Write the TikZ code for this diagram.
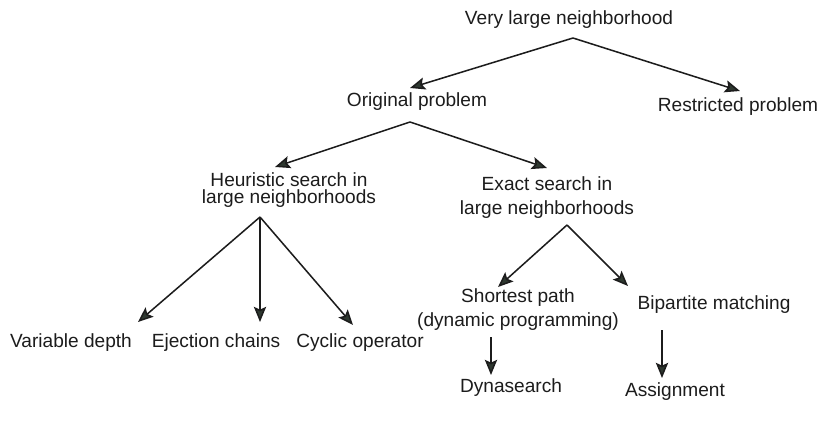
\documentclass[tikz,border=0pt]{standalone}
\usepackage{fontspec}
\setmainfont{Liberation Sans}
\usepackage{tikz}
\usetikzlibrary{arrows.meta, positioning, calc}
\definecolor{headgray}{HTML}{2E3830}
\definecolor{inkgray}{HTML}{1C1C1C}

\begin{document}
\begin{tikzpicture}[
    on grid,
    term/.style={inner sep=0pt, align=center, text=inkgray, font=\fontsize{16.3}{20.5}\selectfont},
    tight/.style={font=\fontsize{16.3}{14.2}\selectfont},
    arrow/.style={-{Stealth[length=13pt, width=10.5pt, inset=2.5pt, fill=headgray]}, line width=1.3pt, draw=inkgray}
]
    \useasboundingbox (0,0) rectangle (25.02,-12.6);

    % --- Top levels ---
    \node[term] (root) at (17.07,-0.60) {Very large neighborhood};
    \node[term, below left=2.46cm and 4.56cm of root] (orig) {Original problem};
    \node[term, below right=2.61cm and 5.07cm of root] (restr) {Restricted problem};

    % --- Search kinds ---
    \node[term, tight, below left=2.64cm and 3.84cm of orig] (heur) {Heuristic search in\\large neighborhoods};
    \node[term, below right=2.88cm and 3.90cm of orig] (exact) {Exact search in\\large neighborhoods};

    % --- Heuristic leaves ---
    \node[term, below left=4.59cm and 6.54cm of heur] (vardepth) {Variable depth};
    \node[term, right=4.35cm of vardepth] (ejection) {Ejection chains};
    \node[term, right=4.32cm of ejection] (cyclic) {Cyclic operator};

    % --- Exact leaves ---
    \node[term, below left=3.36cm and 0.87cm of exact] (shortest) {Shortest path\\(dynamic programming)};
    \node[term, below right=3.21cm and 5.01cm of exact] (bipartite) {Bipartite matching};
    \node[term, below left=2.34cm and 0.21cm of shortest] (dyna) {Dynasearch};
    \node[term, below left=2.61cm and 1.17cm of bipartite] (assign) {Assignment};

    % --- Connections ---
    \draw[arrow] ([shift={(0.12,-0.54)}]root.center) -- ([shift={(-0.21,0.42)}]orig.center);
    \draw[arrow] ([shift={(0.12,-0.54)}]root.center) -- ([shift={(0.06,0.48)}]restr.center);

    \draw[arrow] ([shift={(-0.21,-0.60)}]orig.center) -- ([shift={(-0.42,0.69)}]heur.center);
    \draw[arrow] ([shift={(-0.21,-0.60)}]orig.center) -- ([shift={(0,0.90)}]exact.center);

    \draw[arrow] ([shift={(-0.87,-0.81)}]heur.center) -- ([shift={(2.01,0.63)}]vardepth.center);
    \draw[arrow] ([shift={(-0.87,-0.81)}]heur.center) -- ([shift={(1.32,0.63)}]ejection.center);
    \draw[arrow] ([shift={(-0.87,-0.81)}]heur.center) -- ([shift={(-0.21,0.54)}]cyclic.center);

    \draw[arrow] ([shift={(0.60,-0.81)}]exact.center) -- ([shift={(-0.60,0.69)}]shortest.center);
    \draw[arrow] ([shift={(0.60,-0.81)}]exact.center) -- ([shift={(-2.58,0.57)}]bipartite.center);

    \draw[arrow] ([shift={(-0.81,-0.81)}]shortest.center) -- ([shift={(-0.60,0.39)}]dyna.center);
    \draw[arrow] ([shift={(-1.56,-0.75)}]bipartite.center) -- ([shift={(-0.39,0.42)}]assign.center);

\end{tikzpicture}
\end{document}
